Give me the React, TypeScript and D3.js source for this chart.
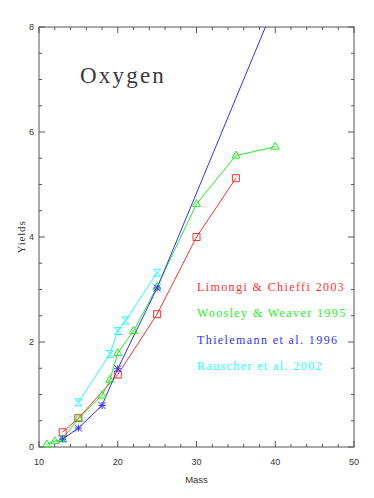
import * as d3 from "d3";
import React from "react";

// data (mass in solar masses, oxygen yield)
const limongiMass = [13, 15, 20, 25, 30, 35];
const limongiYield = [0.28, 0.55, 1.38, 2.53, 4.0, 5.12];

const woosleyMass = [11, 12, 13, 15, 18, 19, 20, 22, 25, 30, 35, 40];
const woosleyYield = [0.05, 0.11, 0.15, 0.55, 0.98, 1.28, 1.79, 2.21, 3.05, 4.63, 5.55, 5.72];

const thielemannMass = [13, 15, 18, 20, 25, 40];
const thielemannYield = [0.15, 0.36, 0.79, 1.49, 3.03, 8.45];

const rauscherMass = [15, 19, 20, 21, 25];
const rauscherYield = [0.85, 1.77, 2.21, 2.41, 3.32];

const legendLabels = [
  "Limongi & Chieffi 2003",
  "Woosley & Weaver 1995",
  "Thielemann et al. 1996",
  "Rauscher et al. 2002",
];
const xTicks = [10, 20, 30, 40, 50];
const yTicks = [0, 2, 4, 6, 8];

const W = 374;
const H = 498;
const m = { left: 39, right: 20, top: 27, bottom: 51 };

const red = "#ff3030";
const green = "#20f020";
const blue = "#3030ff";
const cyan = "#20ffff";
const axisColor = "#555";

const x = d3.scaleLinear([10, 50], [m.left, W - m.right]);
const y = d3.scaleLinear([0, 8], [H - m.bottom, m.top]);

const line = d3
  .line<[number, number]>()
  .x((d) => x(d[0]))
  .y((d) => y(d[1]));

const zip = (a: number[], b: number[]) => a.map((v, i) => [v, b[i]] as [number, number]);

const series = [
  { pts: zip(limongiMass, limongiYield), color: red, sym: "square" },
  { pts: zip(woosleyMass, woosleyYield), color: green, sym: "triangle" },
  { pts: zip(thielemannMass, thielemannYield), color: blue, sym: "asterisk" },
  { pts: zip(rauscherMass, rauscherYield), color: cyan, sym: "hourglass" },
];

const marker = (sym: string, cx: number, cy: number, color: string, k: number) => {
  const s = 3.5;
  let d = "";
  if (sym === "square") d = `M${cx - s},${cy - s}h${2 * s}v${2 * s}h${-2 * s}Z`;
  if (sym === "triangle") d = `M${cx},${cy - s - 1}L${cx + s + 0.5},${cy + s - 1}L${cx - s - 0.5},${cy + s - 1}Z`;
  if (sym === "asterisk")
    d = `M${cx - s},${cy}h${2 * s}M${cx},${cy - s}v${2 * s}M${cx - s},${cy - s}L${cx + s},${cy + s}M${cx - s},${cy + s}L${cx + s},${cy - s}`;
  if (sym === "hourglass")
    d = `M${cx - s},${cy - s}L${cx + s},${cy + s}M${cx - s},${cy + s}L${cx + s},${cy - s}M${cx - s},${cy - s}h${2 * s}M${cx - s},${cy + s}h${2 * s}`;
  return <path key={k} d={d} fill="none" stroke={color} strokeWidth={1} />;
};

export default function App() {
  const x0 = x.range()[0];
  const x1 = x.range()[1];
  const y0 = y.range()[0];
  const y1 = y.range()[1];
  const xMinor = d3.range(10, 50.01, 2);
  const yMinor = d3.range(0, 8.01, 0.5);

  return (
    <svg width={W} height={H} style={{ position: "absolute", left: 0, top: 0, background: "#fff" }}>
      <defs>
        <clipPath id="plot">
          <rect x={x0} y={y1} width={x1 - x0} height={y0 - y1} />
        </clipPath>
      </defs>

      <text x={80} y={83} fontFamily="Liberation Serif" fontSize={23} letterSpacing={2.2} fill="#3a3a3a">
        Oxygen
      </text>

      {/* frame */}
      <rect x={x0} y={y1} width={x1 - x0} height={y0 - y1} fill="none" stroke={axisColor} strokeWidth={1} />

      {/* ticks on all four sides, pointing inward */}
      {xMinor.map((v, i) => {
        const len = v % 10 === 0 ? 6 : 3;
        return (
          <g key={"xt" + i} stroke={axisColor}>
            <line x1={x(v)} x2={x(v)} y1={y0} y2={y0 - len} />
            <line x1={x(v)} x2={x(v)} y1={y1} y2={y1 + len} />
          </g>
        );
      })}
      {yMinor.map((v, i) => {
        const len = v % 2 === 0 ? 6 : 3;
        return (
          <g key={"yt" + i} stroke={axisColor}>
            <line x1={x0} x2={x0 + len} y1={y(v)} y2={y(v)} />
            <line x1={x1} x2={x1 - len} y1={y(v)} y2={y(v)} />
          </g>
        );
      })}
      {xTicks.map((v) => (
        <text key={"xl" + v} x={x(v)} y={y0 + 18} textAnchor="middle" fontFamily="Liberation Sans" fontSize={9} fill="#333">
          {v}
        </text>
      ))}
      {yTicks.map((v) => (
        <text key={"yl" + v} x={x0 - 5} y={y(v) + 3} textAnchor="end" fontFamily="Liberation Sans" fontSize={9} fill="#333">
          {v}
        </text>
      ))}
      <text x={(x0 + x1) / 2} y={y0 + 36} textAnchor="middle" fontFamily="Liberation Sans" fontSize={9.5} fill="#333">
        Mass
      </text>
      <text
        transform={`translate(25,${(y0 + y1) / 2}) rotate(-90)`}
        textAnchor="middle"
        fontFamily="Liberation Serif"
        fontSize={11}
        letterSpacing={0.8}
        fill="#333"
      >
        Yields
      </text>

      <g clipPath="url(#plot)">
        {series.map((s, i) => (
          <path key={"l" + i} d={line(s.pts) || ""} fill="none" stroke={s.color} strokeWidth={1} />
        ))}
      </g>
      {series.map((s, i) => (
        <g key={"m" + i}>
          {s.pts.filter((p) => p[1] <= 8).map((p, j) => marker(s.sym, x(p[0]), y(p[1]), s.color, j))}
        </g>
      ))}

      {legendLabels.map((t, i) => (
        <text
          key={t}
          x={197}
          y={291 + i * 26.3}
          fontFamily="Liberation Serif"
          fontSize={12}
          letterSpacing={1.4}
          fill={series[i].color}
        >
          {t}
        </text>
      ))}
    </svg>
  );
}
